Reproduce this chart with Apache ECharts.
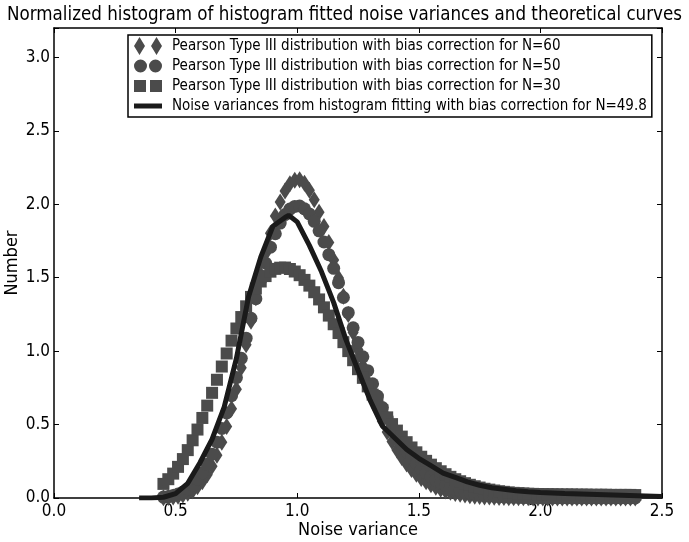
<!DOCTYPE html>
<html>
<head>
<meta charset="utf-8">
<script src="https://cdn.jsdelivr.net/npm/echarts@6/dist/echarts.min.js"></script>
<style>
html,body{margin:0;padding:0;background:#fff;}
#chart{width:689px;height:542px;}
</style>
</head>
<body>
<div id="chart"></div>
<script>
// Shared x positions of the marker series (noise variance)
var xs = [0.45,0.47,0.49,0.51,0.53,0.55,0.57,0.59,0.61,0.63,0.65,0.67,0.69,0.71,0.73,0.75,0.77,0.79,0.81,0.83,0.85,0.87,0.89,0.91,0.93,0.95,0.97,0.99,
1.01,1.03,1.05,1.07,1.09,1.11,1.13,1.15,1.17,1.19,1.21,1.23,1.25,1.27,1.29,1.31,1.33,1.35,1.37,1.39,1.41,1.43,1.45,1.47,1.49,1.51,1.53,1.55,1.57,1.59,1.61,1.63,1.65,1.67,1.69,1.71,1.73,1.75,1.77,1.79,1.81,1.83,1.85,1.87,1.89,1.91,1.93,1.95,1.97,1.99,
2.01,2.03,2.05,2.07,2.09,2.11,2.13,2.15,2.17,2.19,2.21,2.23,2.25,2.27,2.29,2.31,2.33,2.35,2.37,2.39];

// Pearson Type III, N=60 (diamonds)
var n60 = [0.002,0.004,0.007,0.012,0.020,0.032,0.050,0.076,0.111,0.158,0.217,0.291,0.380,0.486,0.607,0.741,0.887,1.044,1.203,1.364,1.520,1.665,1.803,1.920,2.015,2.091,2.139,2.164,
2.167,2.143,2.096,2.030,1.946,1.848,1.739,1.621,1.498,1.373,1.249,1.127,1.009,0.898,0.792,0.695,0.605,0.523,0.450,0.385,0.327,0.276,0.232,0.194,0.161,0.133,0.110,0.090,0.073,0.059,0.048,0.039,0.031,0.025,0.020,0.015,0.012,0.010,0.007,0.006,0.005,0.003,0.003,0.002,0.002,0.001,0.001,0.001,0,0,
0,0,0,0,0,0,0,0,0,0,0,0,0,0,0,0,0,0,0,0];

// Pearson Type III, N=50 (circles)
var n50 = [0.006,0.010,0.017,0.027,0.041,0.062,0.089,0.126,0.172,0.229,0.298,0.380,0.473,0.579,0.696,0.820,0.951,1.088,1.224,1.357,1.484,1.599,1.708,1.799,1.872,1.930,1.967,1.985,
1.988,1.969,1.934,1.884,1.819,1.743,1.657,1.564,1.466,1.365,1.262,1.159,1.059,0.961,0.867,0.778,0.694,0.616,0.544,0.478,0.418,0.364,0.315,0.272,0.233,0.199,0.170,0.144,0.122,0.102,0.086,0.072,0.060,0.050,0.041,0.034,0.028,0.023,0.019,0.015,0.012,0.010,0.008,0.006,0.005,0.004,0.003,0.003,0.002,0.002,
0.001,0.001,0.001,0.001,0.001,0.001,0,0,0,0,0,0,0,0,0,0,0,0,0,0];

// Pearson Type III, N=30 (squares)
var n30 = [0.096,0.128,0.166,0.212,0.265,0.326,0.393,0.466,0.545,0.629,0.716,0.805,0.895,0.984,1.071,1.154,1.232,1.305,1.369,1.426,1.474,1.511,1.541,1.560,1.568,1.569,1.559,1.542,
1.517,1.485,1.446,1.401,1.352,1.298,1.242,1.183,1.123,1.061,1.000,0.938,0.877,0.818,0.760,0.704,0.650,0.598,0.549,0.503,0.459,0.418,0.380,0.344,0.311,0.281,0.253,0.227,0.203,0.182,0.162,0.144,0.128,0.114,0.101,0.090,0.080,0.071,0.063,0.057,0.051,0.046,0.042,0.038,0.035,0.033,0.031,0.029,0.028,0.027,
0.026,0.026,0.025,0.025,0.024,0.024,0.024,0.023,0.023,0.023,0.022,0.022,0.022,0.022,0.021,0.021,0.021,0.021,0.021,0.020];

// Histogram-fitted noise variances, N=49.8 (black line)
var lineX = [0.35,0.40,0.45,0.50,0.55,0.60,0.65,0.70,0.75,0.80,0.85,0.90,0.95,0.965,1.00,1.05,1.10,1.15,1.20,1.25,1.30,1.35,1.40,1.45,1.50,1.55,1.60,1.65,1.70,1.75,1.80,1.85,1.90,1.95,2.00,2.10,2.20,2.30,2.40,2.50];
var lineY = [0.0,0.0,0.005,0.03,0.10,0.24,0.40,0.62,0.95,1.37,1.64,1.85,1.91,1.925,1.88,1.72,1.54,1.33,1.08,0.87,0.665,0.49,0.41,0.33,0.27,0.22,0.17,0.14,0.11,0.087,0.07,0.06,0.05,0.043,0.037,0.03,0.025,0.02,0.015,0.01];

var xTicks = [0.0,0.5,1.0,1.5,2.0,2.5];
var yTicks = [0.0,0.5,1.0,1.5,2.0,2.5,3.0];

var names = [
  'Pearson Type III distribution with bias correction for N=60',
  'Pearson Type III distribution with bias correction for N=50',
  'Pearson Type III distribution with bias correction for N=30',
  'Noise variances from histogram fitting with bias correction for N=49.8'
];

function pairs(xa, ya){ return xa.map(function(x,i){ return [x, ya[i]]; }); }

var FONT = "'DejaVu Sans Condensed', 'DejaVu Sans', sans-serif";
var GRAY = '#4b4b4b';
var BLACK = '#1a1a1a';

var chart = echarts.init(document.getElementById('chart'), null, {renderer:'canvas'});

var tickCommon = {show:true, inside:true, length:5, lineStyle:{color:'#000', width:1}};
var lineCommon = {show:true, onZero:false, lineStyle:{color:'#000', width:1.5}};

chart.setOption({
  animation:false,
  backgroundColor:'#fff',
  title:{
    text:'Normalized histogram of histogram fitted noise variances and theoretical curves',
    left:'center', top:1,
    textStyle:{fontFamily:FONT, fontSize:18.6, fontWeight:'normal', color:'#000'}
  },
  grid:{left:54, right:27, top:28, bottom:44, outerBoundsMode:'none', containLabel:false},
  legend:{
    orient:'vertical', left:128, top:35,
    padding:[1,5,1,6], itemGap:0, itemWidth:28, itemHeight:18,
    backgroundColor:'#fff', borderColor:'#000', borderWidth:1.5,
    textStyle:{fontFamily:FONT, fontSize:15, lineHeight:20, color:'#000', padding:[0,0,0,5]},
    data:[
      {name:names[0], icon:'path://M5.5,0L11,9L5.5,18L0,9Z M22.5,0L28,9L22.5,18L17,9Z', itemStyle:{color:GRAY}},
      {name:names[1], icon:'path://M0,6.5A6.5,6.5,0,1,0,13,6.5A6.5,6.5,0,1,0,0,6.5Z M15,6.5A6.5,6.5,0,1,0,28,6.5A6.5,6.5,0,1,0,15,6.5Z', itemStyle:{color:GRAY}},
      {name:names[2], icon:'path://M0,0H12V12H0Z M16,0H28V12H16Z', itemStyle:{color:GRAY}},
      {name:names[3], icon:'path://M0,0H28V5H0Z', itemStyle:{color:BLACK}}
    ]
  },
  xAxis:[{
    type:'value', min:0, max:2.5, interval:0.5, position:'bottom',
    axisLine:lineCommon, axisTick:tickCommon, splitLine:{show:false},
    axisLabel:{fontFamily:FONT, fontSize:17, color:'#000', margin:5, formatter:function(v){return v.toFixed(1);}},
    name:'Noise variance', nameLocation:'middle', nameGap:23, nameMoveOverlap:false,
    nameTextStyle:{fontFamily:FONT, fontSize:18, color:'#000'}
  },{
    type:'value', min:0, max:2.5, interval:0.5, position:'top',
    axisLine:lineCommon, axisTick:tickCommon, axisLabel:{show:false}, splitLine:{show:false}
  }],
  yAxis:[{
    type:'value', min:0, max:3.2, interval:0.5, position:'left',
    axisLine:lineCommon, axisTick:tickCommon, splitLine:{show:false},
    axisLabel:{fontFamily:FONT, fontSize:17, color:'#000', margin:4,
      formatter:function(v){ return yTicks.indexOf(v) >= 0 ? v.toFixed(1) : ''; }},
    name:'Number', nameLocation:'middle', nameGap:33, nameRotate:90, nameMoveOverlap:false,
    nameTextStyle:{fontFamily:FONT, fontSize:18, color:'#000'}
  },{
    type:'value', min:0, max:3.2, interval:0.5, position:'right',
    axisLine:lineCommon, axisTick:tickCommon, axisLabel:{show:false}, splitLine:{show:false}
  }],
  series:[
    {name:names[0], type:'scatter', data:pairs(xs,n60), symbol:'diamond', symbolSize:[11,17],
     itemStyle:{color:GRAY, opacity:1}, clip:true, z:2},
    {name:names[1], type:'scatter', data:pairs(xs,n50), symbol:'circle', symbolSize:13,
     itemStyle:{color:GRAY, opacity:1}, clip:true, z:2},
    {name:names[2], type:'scatter', data:pairs(xs,n30), symbol:'rect', symbolSize:12,
     itemStyle:{color:GRAY, opacity:1}, clip:true, z:2},
    {name:names[3], type:'line', data:pairs(lineX,lineY), showSymbol:false, symbol:'none',
     lineStyle:{color:BLACK, width:5}, itemStyle:{color:BLACK}, clip:true, z:3}
  ]
});
</script>
</body>
</html>
